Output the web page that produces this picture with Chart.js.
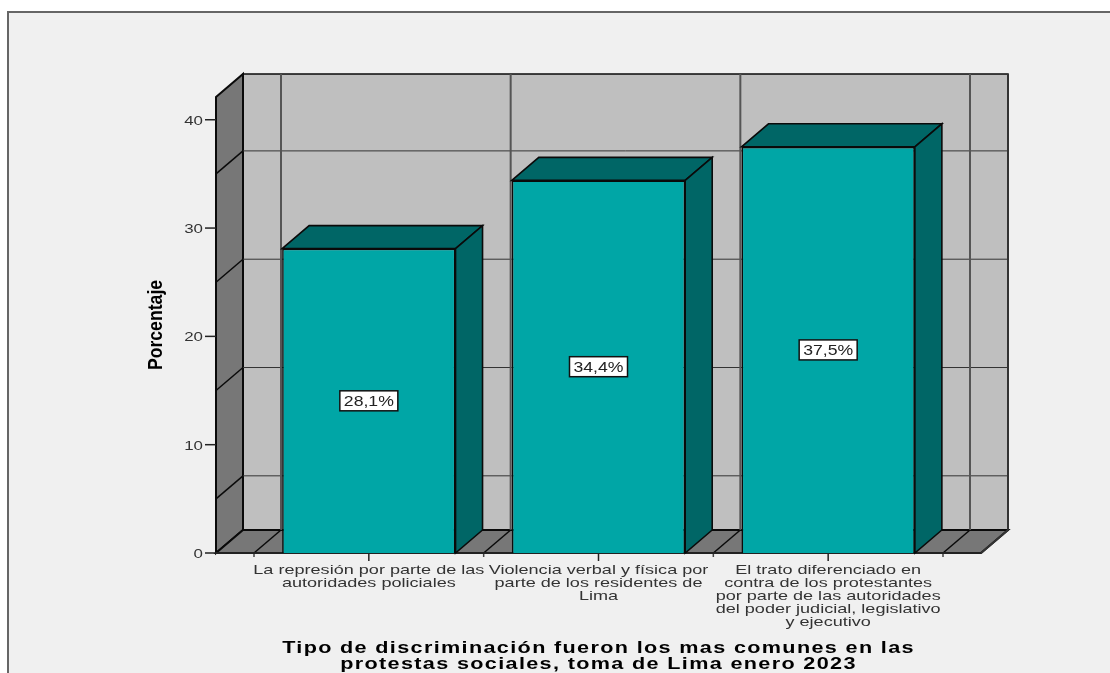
<!DOCTYPE html>
<html>
<head>
<meta charset="utf-8">
<title>Tipo de discriminación</title>
<script src="https://cdn.jsdelivr.net/npm/chart.js@4"></script>
<style>
  html, body { margin: 0; padding: 0; background: #fff; overflow: hidden; }
  #panel { position: absolute; left: 7px; top: 11px; width: 1110px; height: 670px; background: #f0f0f0; border: 2px solid #666; box-sizing: border-box; }
  #wrap { position: absolute; left: 0; top: 0; width: 1110px; height: 673px; }
</style>
</head>
<body>
<div id="panel"></div>
<div id="wrap"><canvas id="barChart" width="1110" height="673"></canvas></div>
<script>
// Chart values
const categories = [
  ['La represión por parte de las', 'autoridades policiales'],
  ['Violencia verbal y física por', 'parte de los residentes de', 'Lima'],
  ['El trato diferenciado en', 'contra de los protestantes', 'por parte de las autoridades', 'del poder judicial, legislativo', 'y ejecutivo']
];
const percentages = [28.1, 34.4, 37.5];
const yTicks = [0, 10, 20, 30, 40];
const wallLines = [5, 15, 25, 35];
const yTitle = 'Porcentaje';
const xTitle = ['Tipo de discriminación fueron los mas comunes en las', 'protestas sociales, toma de Lima enero 2023'];

// 3D look
const depthX = 27, depthY = 23;
const sideMargin = 38;
const colors = { wall: '#bfbfbf', side: '#777777', front: '#00a6a6', dark: '#006666', line: '#0a0a0a', grid: '#555555' };

function poly(ctx, pts, fill) {
  ctx.beginPath();
  pts.forEach((p, i) => i ? ctx.lineTo(p[0], p[1]) : ctx.moveTo(p[0], p[1]));
  ctx.closePath();
  if (fill) { ctx.fillStyle = fill; ctx.fill(); }
  ctx.stroke();
}

function seg(ctx, x1, y1, x2, y2) {
  ctx.beginPath();
  ctx.moveTo(x1, y1);
  ctx.lineTo(x2, y2);
  ctx.stroke();
}

// The picture's text is stretched sideways. Axes have no option for that,
// so fillText gets a horizontal scale while the scale draws its text.
function stretched(fn, k, dy, spacing) {
  return function () {
    const ctx = this.ctx;
    const fill = ctx.fillText;
    ctx.fillText = function (text, x, y) {
      ctx.save();
      ctx.translate(x, y + (dy || 0));
      ctx.scale(k, 1);
      ctx.letterSpacing = (spacing || 0) + 'px';
      fill.call(ctx, text, 0, 0);
      ctx.restore();
    };
    fn.apply(this, arguments);
    delete ctx.fillText;
  };
}

const box3d = {
  id: 'box3d',
  beforeDraw(chart) {
    const { x, y } = chart.scales;
    if (!x._stretched) {
      x.drawLabels = stretched(x.drawLabels, 1.39);
      x.drawTitle = stretched(x.drawTitle, 1.35, 0, 1);
      y.drawLabels = stretched(y.drawLabels, 1.3, 1.5);
      y.drawTitle = stretched(y.drawTitle, 0.84);
      x._stretched = true;
    }
  },
  beforeDatasetsDraw(chart) {
    const { ctx } = chart;
    const { x, y } = chart.scales;
    const y0 = y.getPixelForValue(0);
    const top = chart.chartArea.top;
    const half = (x.getPixelForValue(1) - x.getPixelForValue(0)) / 2;
    const left = x.getPixelForValue(0) - half - sideMargin;
    const right = x.getPixelForValue(categories.length - 1) + half + sideMargin;

    ctx.save();
    ctx.strokeStyle = colors.line;
    ctx.lineWidth = 1.5;
    // back wall, left wall, floor
    poly(ctx, [[left + depthX, top - depthY], [right + depthX, top - depthY], [right + depthX, y0 - depthY], [left + depthX, y0 - depthY]], colors.wall);
    ctx.lineWidth = 2;
    poly(ctx, [[left, top], [left + depthX, top - depthY], [left + depthX, y0 - depthY], [left, y0]], colors.side);
    poly(ctx, [[left, y0], [left + depthX, y0 - depthY], [right + depthX, y0 - depthY], [right, y0]], colors.side);

    // horizontal lines on the walls
    wallLines.forEach(v => {
      const py = y.getPixelForValue(v);
      ctx.strokeStyle = colors.line;
      ctx.lineWidth = 1.5;
      seg(ctx, left, py, left + depthX, py - depthY);
      ctx.strokeStyle = '#333333';
      ctx.lineWidth = 1;
      seg(ctx, left + depthX, py - depthY, right + depthX, py - depthY);
    });

    // category boundaries, on the wall and across the floor
    for (let i = 0; i <= categories.length; i++) {
      const px = x.getPixelForValue(0) - half + i * half * 2;
      ctx.strokeStyle = colors.grid;
      ctx.lineWidth = 2;
      seg(ctx, px + depthX, top - depthY, px + depthX, y0 - depthY);
      ctx.strokeStyle = colors.line;
      ctx.lineWidth = 1.5;
      seg(ctx, px, y0, px + depthX, y0 - depthY);
      ctx.strokeStyle = '#444444';
      seg(ctx, px, y0, px, y0 + 4);
    }

    // re-trace the right edge, it is heavier in the picture
    ctx.strokeStyle = '#333333';
    ctx.lineWidth = 2;
    seg(ctx, right + depthX, top - depthY, right + depthX, y0 - depthY);
    seg(ctx, right + depthX, y0 - depthY, right, y0);

    // axis ticks
    ctx.strokeStyle = '#222222';
    ctx.lineWidth = 1.5;
    yTicks.forEach(v => {
      const py = y.getPixelForValue(v);
      seg(ctx, left - 11, py, left, py);
    });
    categories.forEach((c, i) => {
      const px = x.getPixelForValue(i);
      seg(ctx, px, y0, px, y0 + 8);
    });
    ctx.lineWidth = 2;
    seg(ctx, left, y0, right, y0);
    ctx.restore();
  },
  afterDatasetsDraw(chart) {
    const { ctx } = chart;
    const meta = chart.getDatasetMeta(0);
    ctx.save();
    ctx.lineJoin = 'miter';
    meta.data.forEach((bar, i) => {
      const l = bar.x - bar.width / 2, r = bar.x + bar.width / 2;
      // top and side faces
      ctx.strokeStyle = colors.line;
      ctx.lineWidth = 1.6;
      poly(ctx, [[l, bar.y], [l + depthX, bar.y - depthY], [r + depthX, bar.y - depthY], [r, bar.y]], colors.dark);
      poly(ctx, [[r, bar.y], [r + depthX, bar.y - depthY], [r + depthX, bar.base - depthY], [r, bar.base]], colors.dark);

      // value label
      const label = percentages[i].toFixed(1).replace('.', ',') + '%';
      const cy = (bar.y + bar.base) / 2;
      ctx.fillStyle = '#ffffff';
      ctx.strokeStyle = '#111111';
      ctx.lineWidth = 1.5;
      ctx.fillRect(bar.x - 29, cy - 10, 58, 20);
      ctx.strokeRect(bar.x - 29, cy - 10, 58, 20);
      ctx.fillStyle = '#222222';
      ctx.font = '14px "Liberation Sans"';
      ctx.textAlign = 'center';
      ctx.textBaseline = 'middle';
      ctx.save();
      ctx.translate(bar.x, cy + 1);
      ctx.scale(1.26, 1);
      ctx.fillText(label, 0, 0);
      ctx.restore();
    });
    ctx.restore();
  }
};

new Chart(document.getElementById('barChart'), {
  type: 'bar',
  data: {
    labels: categories,
    datasets: [{
      data: percentages,
      backgroundColor: colors.front,
      borderColor: colors.line,
      borderWidth: 1.6,
      barPercentage: 0.755,
      categoryPercentage: 1
    }]
  },
  plugins: [box3d],
  options: {
    responsive: false,
    animation: false,
    layout: { padding: { left: 144, right: 167, top: 97, bottom: 0 } },
    plugins: { legend: { display: false }, tooltip: { enabled: false } },
    scales: {
      x: {
        offset: true,
        grid: { display: false },
        border: { display: false },
        afterFit(scale) { scale.height = 120; },
        ticks: {
          autoSkip: false,
          maxRotation: 0,
          padding: 3,
          color: '#333333',
          font: { family: '"Liberation Sans"', size: 13, lineHeight: 1 }
        },
        title: {
          display: true,
          text: xTitle,
          color: '#000000',
          padding: { top: 0, bottom: 0 },
          font: { family: '"Liberation Sans"', size: 16, weight: 'bold', lineHeight: 1 }
        }
      },
      y: {
        min: 0,
        max: 42.1,
        grid: { display: false },
        border: { display: false },
        afterFit(scale) { scale.width = 110; },
        ticks: {
          stepSize: 10,
          includeBounds: false,
          padding: 43,
          color: '#333333',
          font: { family: '"Liberation Sans"', size: 13 }
        },
        title: {
          display: true,
          text: yTitle,
          color: '#000000',
          padding: 0,
          font: { family: '"Liberation Sans"', size: 21, weight: 'bold' }
        }
      }
    }
  }
});
</script>
</body>
</html>
